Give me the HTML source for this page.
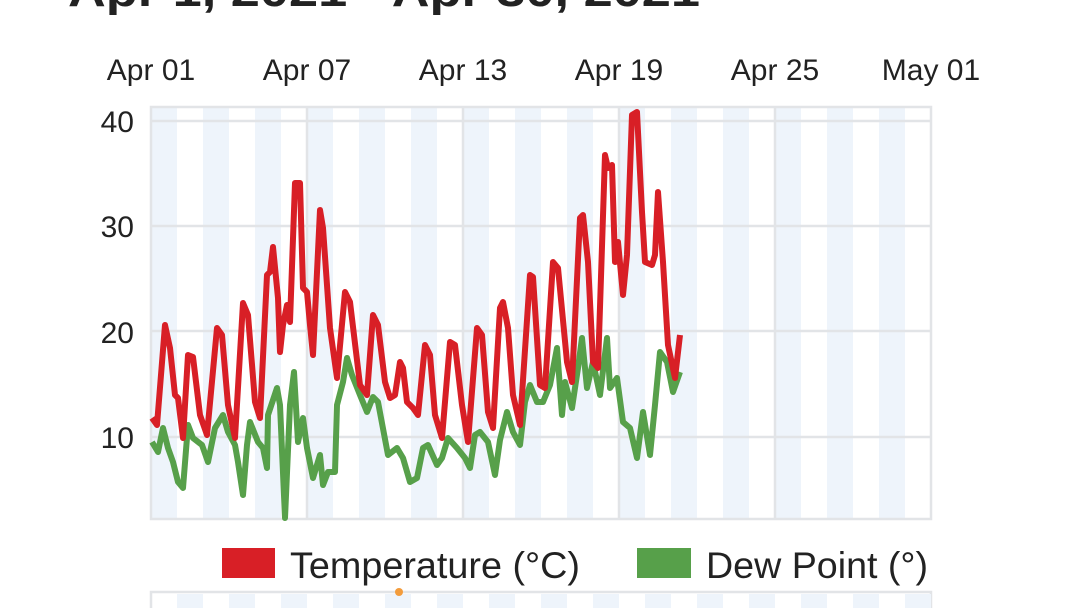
<!DOCTYPE html>
<html><head><meta charset="utf-8"><style>
html,body{margin:0;padding:0;background:#fff;width:1080px;height:608px;overflow:hidden}
svg{display:block;font-family:"Liberation Sans",Arial,sans-serif}
</style></head><body>
<svg width="1080" height="608" viewBox="0 0 1080 608">
<text x="68" y="6" font-size="44" font-weight="bold" fill="#222" textLength="632" lengthAdjust="spacingAndGlyphs">Apr 1, 2021 - Apr 30, 2021</text>
<g font-size="30" fill="#222" text-anchor="middle">
<text x="151" y="80">Apr 01</text><text x="307" y="80">Apr 07</text><text x="463" y="80">Apr 13</text>
<text x="619" y="80">Apr 19</text><text x="775" y="80">Apr 25</text><text x="931" y="80">May 01</text>
</g>
<g font-size="30" fill="#222" text-anchor="end">
<text x="134" y="132">40</text><text x="134" y="237">30</text><text x="134" y="343">20</text><text x="134" y="448">10</text>
</g>
<g fill="#eef4fb">
<rect x="151" y="107" width="26" height="412"/><rect x="203" y="107" width="26" height="412"/>
<rect x="255" y="107" width="26" height="412"/><rect x="307" y="107" width="26" height="412"/>
<rect x="359" y="107" width="26" height="412"/><rect x="411" y="107" width="26" height="412"/>
<rect x="463" y="107" width="26" height="412"/><rect x="515" y="107" width="26" height="412"/>
<rect x="567" y="107" width="26" height="412"/><rect x="619" y="107" width="26" height="412"/>
<rect x="671" y="107" width="26" height="412"/><rect x="723" y="107" width="26" height="412"/>
<rect x="775" y="107" width="26" height="412"/><rect x="827" y="107" width="26" height="412"/>
<rect x="879" y="107" width="26" height="412"/>
</g>
<g stroke="#e2e4e7" stroke-width="2.5" fill="none">
<rect x="151" y="107" width="780" height="412"/>
<line x1="151" y1="121" x2="931" y2="121"/><line x1="151" y1="226" x2="931" y2="226"/>
<line x1="151" y1="331" x2="931" y2="331"/><line x1="151" y1="437" x2="931" y2="437"/>
<line x1="307" y1="107" x2="307" y2="519"/><line x1="463" y1="107" x2="463" y2="519"/>
<line x1="619" y1="107" x2="619" y2="519"/><line x1="775" y1="107" x2="775" y2="519"/>
</g>
<polyline fill="none" stroke="#57a04a" stroke-width="6" stroke-linejoin="round" points="152,442 158,452 163,428 168,448 173,462 178,482 183,488 188,425 193,438 202,445 208,462 215,428 223,415 228,432 235,445 238,462 243,495 247,445 250,422 258,442 263,448 267,468 268,415 277,388 280,405 285,518 290,405 294,372 298,442 303,418 307,448 313,478 320,455 323,485 328,472 335,472 337,405 343,382 347,358 352,375 360,395 367,412 373,397 378,402 388,455 397,448 403,458 410,482 417,478 423,448 428,445 437,465 442,458 448,438 457,448 465,458 470,468 475,435 480,432 488,442 495,475 500,440 507,412 513,432 520,445 525,402 530,385 537,402 543,402 550,385 557,348 562,415 565,382 572,408 578,368 582,338 587,388 593,362 600,395 607,338 610,388 617,378 623,422 630,428 637,458 643,412 650,455 655,405 660,352 667,362 673,392 680,372"/>
<polyline fill="none" stroke="#d81f26" stroke-width="6" stroke-linejoin="round" points="152,418 157,425 165,325 170,348 175,395 178,398 183,438 188,355 193,357 200,415 207,435 217,328 222,335 228,405 235,438 243,303 248,315 255,402 260,418 267,275 270,272 273,247 278,298 280,352 283,325 287,305 290,322 295,183 300,183 303,288 307,292 310,325 313,355 320,210 323,228 330,328 337,378 345,292 350,302 360,385 367,395 373,315 378,325 385,382 390,398 395,395 400,362 403,368 407,402 413,408 418,415 425,345 430,355 435,415 442,438 450,342 455,345 462,405 468,442 477,328 482,335 488,412 493,428 500,308 503,302 508,328 513,395 520,425 530,275 533,277 540,385 545,388 553,262 558,268 567,362 572,382 580,218 583,215 588,262 593,362 598,368 605,155 608,168 612,165 615,262 618,242 623,295 627,255 632,115 637,112 642,212 645,262 652,265 655,255 658,192 663,262 668,345 675,378 680,335"/>
<rect x="222" y="548" width="53" height="30" fill="#d81f26"/>
<text x="290" y="578" font-size="37" fill="#222" textLength="290" lengthAdjust="spacingAndGlyphs">Temperature (°C)</text>
<rect x="637" y="548" width="54" height="30" fill="#57a04a"/>
<text x="706" y="578" font-size="37" fill="#222" textLength="222" lengthAdjust="spacingAndGlyphs">Dew Point (°)</text>
<rect x="151" y="592" width="780" height="20" fill="#fff" stroke="#e2e4e7" stroke-width="2.5"/>
<g fill="#eef4fb"><rect x="177" y="594" width="26" height="14"/><rect x="229" y="594" width="26" height="14"/><rect x="281" y="594" width="26" height="14"/><rect x="333" y="594" width="26" height="14"/><rect x="385" y="594" width="26" height="14"/><rect x="437" y="594" width="26" height="14"/><rect x="489" y="594" width="26" height="14"/><rect x="541" y="594" width="26" height="14"/><rect x="593" y="594" width="26" height="14"/><rect x="645" y="594" width="26" height="14"/><rect x="697" y="594" width="26" height="14"/><rect x="749" y="594" width="26" height="14"/><rect x="801" y="594" width="26" height="14"/><rect x="853" y="594" width="26" height="14"/><rect x="905" y="594" width="26" height="14"/></g>
<circle cx="399" cy="592" r="4" fill="#f39c3c"/>
</svg>
</body></html>
